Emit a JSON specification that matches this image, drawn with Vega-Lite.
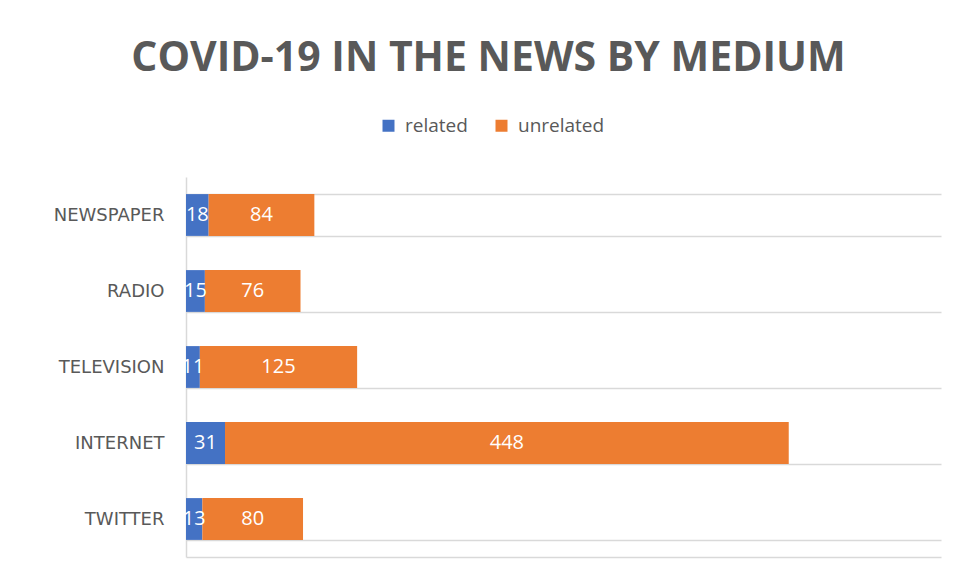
{
  "$schema": "https://vega.github.io/schema/vega-lite/v6.json",
  "width": 755,
  "height": 380,
  "autosize": {"type": "none"},
  "padding": {"left": 186, "top": 177, "right": 17, "bottom": 24},
  "background": "white",
  "title": {
    "text": "COVID-19 IN THE NEWS BY MEDIUM",
    "font": "Open Sans",
    "fontSize": 41,
    "fontWeight": "bold",
    "color": "#595959",
    "anchor": "middle",
    "frame": "group",
    "dx": -75,
    "offset": 4,
    "baseline": "alphabetic"
  },
  "data": {
    "values": [
      {"medium": "NEWSPAPER", "type": "related", "order": 1, "count": 18},
      {"medium": "NEWSPAPER", "type": "unrelated", "order": 2, "count": 84},
      {"medium": "RADIO", "type": "related", "order": 1, "count": 15},
      {"medium": "RADIO", "type": "unrelated", "order": 2, "count": 76},
      {"medium": "TELEVISION", "type": "related", "order": 1, "count": 11},
      {"medium": "TELEVISION", "type": "unrelated", "order": 2, "count": 125},
      {"medium": "INTERNET", "type": "related", "order": 1, "count": 31},
      {"medium": "INTERNET", "type": "unrelated", "order": 2, "count": 448},
      {"medium": "TWITTER", "type": "related", "order": 1, "count": 13},
      {"medium": "TWITTER", "type": "unrelated", "order": 2, "count": 80}
    ]
  },
  "transform": [
    {"stack": "count", "groupby": ["medium"], "sort": [{"field": "order"}], "as": ["s0", "s1"]},
    {"calculate": "(datum.s0 + datum.s1) / 2", "as": "mid"}
  ],
  "encoding": {
    "y": {
      "field": "medium",
      "type": "nominal",
      "sort": ["NEWSPAPER", "RADIO", "TELEVISION", "INTERNET", "TWITTER"],
      "scale": {"paddingInner": 0.45, "paddingOuter": 0.225},
      "axis": {
        "title": null,
        "tickBand": "extent",
        "grid": true,
        "gridColor": "#D9D9D9",
        "gridWidth": 1.5,
        "domain": true,
        "domainColor": "#D9D9D9",
        "domainWidth": 1.5,
        "ticks": false,
        "labelFont": "DejaVu Sans",
        "labelFontSize": 18,
        "labelColor": "#595959",
        "labelPadding": 22,
        "labelLimit": 300
      }
    }
  },
  "layer": [
    {
      "mark": {"type": "bar"},
      "encoding": {
        "x": {
          "field": "s0",
          "type": "quantitative",
          "scale": {"domain": [0, 600], "nice": false},
          "axis": {
            "title": null,
            "labels": false,
            "ticks": false,
            "grid": false,
            "domain": true,
            "domainColor": "#D9D9D9",
            "domainWidth": 1.5
          }
        },
        "x2": {"field": "s1"},
        "color": {
          "field": "type",
          "type": "nominal",
          "scale": {"domain": ["related", "unrelated"], "range": ["#4472C4", "#ED7D31"]},
          "legend": {
            "title": null,
            "orient": "none",
            "direction": "horizontal",
            "legendX": 193,
            "legendY": -61,
            "symbolType": "square",
            "symbolSize": 144,
            "symbolStrokeWidth": 0,
            "labelFont": "Open Sans",
            "labelFontSize": 19,
            "labelColor": "#595959",
            "labelOffset": 7,
            "columnPadding": 24
          }
        },
        "order": {"field": "order"}
      }
    },
    {
      "mark": {"type": "text", "color": "white", "font": "Open Sans", "fontSize": 20, "baseline": "middle", "align": "center"},
      "encoding": {
        "x": {"field": "mid", "type": "quantitative"},
        "text": {"field": "count", "type": "quantitative"}
      }
    }
  ],
  "config": {
    "view": {"stroke": null}
  }
}
